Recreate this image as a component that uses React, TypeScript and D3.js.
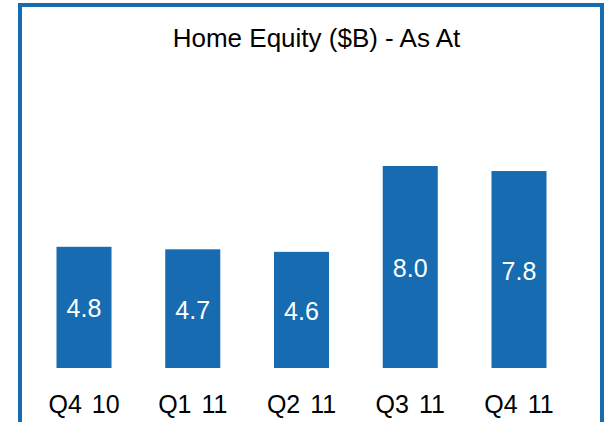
import React from "react";
import * as d3 from "d3";

const categories = ["Q4 10", "Q1 11", "Q2 11", "Q3 11", "Q4 11"];
const values = [4.8, 4.7, 4.6, 8.0, 7.8];
const valueLabels = ["4.8", "4.7", "4.6", "8.0", "7.8"];
const title = "Home Equity ($B) - As At";

const W = 605;
const H = 422;
const BLUE = "#176BB1";
const FONT = "'Liberation Sans', Arial, sans-serif";

export default function App() {
  const x = d3
    .scaleBand<string>()
    .domain(categories)
    .range([29.3, 573.7])
    .paddingInner(0.494)
    .paddingOuter(0.25);
  const y = d3.scaleLinear().domain([0, 10]).range([368, 115.5]);

  return (
    <svg
      width={W}
      height={H}
      style={{ position: "absolute", left: 0, top: 0, background: "#fff" }}
    >
      <rect x={20} y={5} width={582} height={460} fill="none" stroke={BLUE} strokeWidth={4} />
      <text x={316.5} y={46.5} textAnchor="middle" fontFamily={FONT} fontSize={26} fill="#000">
        {title}
      </text>
      {categories.map((c, i) => {
        const x0 = x(c)!;
        const bw = x.bandwidth();
        const top = y(values[i]);
        const bottom = y(0);
        return (
          <g key={c}>
            <rect x={x0} y={top} width={bw} height={bottom - top} fill={BLUE} />
            <text
              x={x0 + bw / 2}
              y={(top + bottom) / 2 + 10}
              textAnchor="middle"
              fontFamily={FONT}
              fontSize={25}
              fill="#fff"
            >
              {valueLabels[i]}
            </text>
            <text
              x={x0 + bw / 2}
              y={412.7}
              textAnchor="middle"
              fontFamily={FONT}
              fontSize={25}
              fill="#000"
              wordSpacing={3}
            >
              {c}
            </text>
          </g>
        );
      })}
    </svg>
  );
}
